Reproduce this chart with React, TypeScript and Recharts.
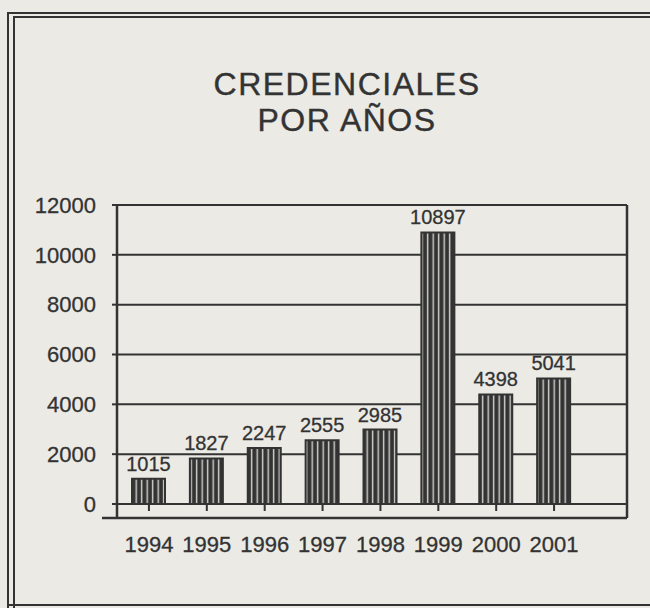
import React from 'react';
import { BarChart, Bar, XAxis, YAxis, CartesianGrid, LabelList } from 'recharts';

const years = ['1994', '1995', '1996', '1997', '1998', '1999', '2000', '2001'];
const credenciales = [1015, 1827, 2247, 2555, 2985, 10897, 4398, 5041];
const yTicks = [0, 2000, 4000, 6000, 8000, 10000, 12000];
const titleLines = ['CREDENCIALES', 'POR AÑOS'];

const data = years.map((y, i) => ({ year: y, value: credenciales[i] }));

const INK = '#333333';
const PAPER = '#ebeae5';
const FONT = '"Liberation Sans", Arial, Helvetica, sans-serif';

const XTick = (props: any) => {
  const { x, y, payload } = props;
  return (
    <g>
      <line x1={x} x2={x} y1={y - 14} y2={y - 7} stroke={INK} strokeWidth={2} />
      <text x={x} y={y + 34} textAnchor="middle" fontSize={22} fill={INK} fontFamily={FONT} stroke={INK} strokeWidth={0.3}>
        {payload.value}
      </text>
    </g>
  );
};

export default function App() {
  return (
    <div style={{ position: 'absolute', left: 0, top: 0, width: 650, height: 608, background: PAPER, overflow: 'hidden', fontFamily: FONT }}>
      <svg width={650} height={608} style={{ position: 'absolute', left: 0, top: 0 }}>
        <defs>
          <pattern id="stripes" width={5.5} height={10} patternUnits="userSpaceOnUse">
            <rect width={5.5} height={10} fill={INK} />
            <rect x={3.5} width={1.4} height={10} fill="#d6d5d0" />
          </pattern>
        </defs>
        <polyline points="8,608 8,13 650,13" fill="none" stroke={INK} strokeWidth={2} />
        <polyline points="14,608 14,17 650,17" fill="none" stroke={INK} strokeWidth={2} />
        <line x1={8} x2={650} y1={605} y2={605} stroke={INK} strokeWidth={2} />
        <line x1={102} x2={117} y1={518} y2={518} stroke={INK} strokeWidth={2.5} />
      </svg>
      {/* title */}
      <div style={{ position: 'absolute', left: 0, top: 66, width: 694, textAlign: 'center', fontSize: 32, lineHeight: '36px', letterSpacing: 1.5, color: INK, WebkitTextStroke: '0.4px #333' }}>
        {titleLines.map((t) => (
          <div key={t}>{t}</div>
        ))}
      </div>
      <div style={{ position: 'absolute', left: 0, top: 0 }}>
        <BarChart width={650} height={608} data={data} margin={{ top: 205, right: 22, left: 0, bottom: 50 }}>
          <CartesianGrid yAxisId="l" horizontal vertical={false} stroke={INK} strokeWidth={2} />
          <XAxis
            dataKey="year"
            padding={{ left: 3, right: 44 }}
            height={40}
            tickSize={0}
            tickMargin={0}
            tickLine={false}
            axisLine={{ stroke: INK, strokeWidth: 2.5 }}
            tick={<XTick />}
            interval={0}
          />
          <YAxis
            yAxisId="l"
            type="number"
            domain={[-562, 12000]}
            ticks={yTicks}
            width={117}
            tickSize={5}
            tickMargin={16}
            axisLine={{ stroke: INK, strokeWidth: 2.5 }}
            tickLine={{ stroke: INK, strokeWidth: 2 }}
            tick={{ fontSize: 22, fill: INK, fontFamily: FONT, stroke: INK, strokeWidth: 0.3 }}
          />
          <YAxis
            yAxisId="r"
            orientation="right"
            width={1}
            domain={[-562, 12000]}
            tick={false}
            tickLine={false}
            axisLine={{ stroke: INK, strokeWidth: 2.5 }}
          />
          <Bar yAxisId="l" dataKey="value" barSize={33} fill="url(#stripes)" stroke={INK} strokeWidth={2} isAnimationActive={false}>
            <LabelList dataKey="value" position="top" offset={8} fontSize={20} fill={INK} fontFamily={FONT} stroke={INK} strokeWidth={0.3} />
          </Bar>
        </BarChart>
      </div>
    </div>
  );
}
